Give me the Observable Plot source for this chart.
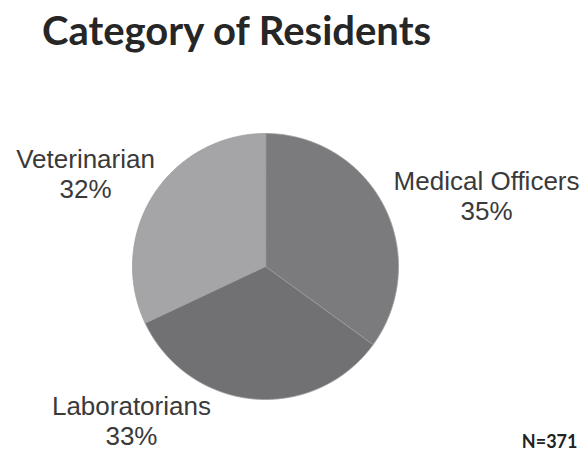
<!DOCTYPE html>
<html>
<head>
<meta charset="utf-8">
<script src="https://cdn.jsdelivr.net/npm/d3@7"></script>
<script src="https://cdn.jsdelivr.net/npm/@observablehq/plot@0.6"></script>
<style>
  html, body { margin: 0; padding: 0; background: #fff; }
  #wrap { width: 585px; height: 455px; position: relative; overflow: hidden; }
  #title { font-family: Lato, "Open Sans", sans-serif; font-weight: 700; font-size: 40px; line-height: 40px;
           color: #262626; position: absolute; left: 42px; top: 10px; white-space: nowrap; z-index: 2; }
  #chart { position: absolute; left: 0; top: 0; }
</style>
</head>
<body>
<div id="wrap">
  <div id="title">Category of Residents</div>
  <div id="chart"></div>
</div>
<script>
const categories = ["Medical Officers", "Laboratorians", "Veterinarian"];
const percents = [35, 33, 32];
const sliceColors = ["#7b7b7e", "#717174", "#a5a5a8"];
const sampleSize = "N=371";

// layout (not data): label centres in units of the pie radius, relative to the pie centre
const labelPos = {
  "Medical Officers": [1.662, 0.535],
  "Laboratorians": [-1.008, -1.158],
  "Veterinarian": [-1.353, 0.699]
};

const W = 585, H = 455, R = 133, CX = 265, CY = 266;

const data = categories.map((c, i) => ({category: c, value: percents[i]}));
const arcs = d3.pie().sort(null).value(d => d.value).startAngle(0).endAngle(2 * Math.PI)(data);

const polys = [];
arcs.forEach(a => {
  const n = Math.max(8, Math.ceil((a.endAngle - a.startAngle) / 0.01));
  polys.push({category: a.data.category, x: 0, y: 0});
  for (let k = 0; k <= n; k++) {
    const t = a.startAngle + (a.endAngle - a.startAngle) * k / n;
    polys.push({category: a.data.category, x: Math.sin(t), y: Math.cos(t)});
  }
});

const labels = data.map(d => ({
  text: `${d.category}\n${d.value}%`,
  x: labelPos[d.category][0],
  y: labelPos[d.category][1]
}));

const chart = Plot.plot({
  width: W,
  height: H,
  margin: 0,
  style: {background: "transparent", overflow: "visible"},
  x: {domain: [-CX / R, (W - CX) / R], axis: null},
  y: {domain: [-(H - CY) / R, CY / R], axis: null},
  color: {domain: categories, range: sliceColors},
  marks: [
    Plot.line(polys, {x: "x", y: "y", z: "category", fill: "category", stroke: "#9d9d9f",
                      strokeWidth: 0.8, curve: "linear-closed"}),
    Plot.text(labels, {x: "x", y: "y", text: "text", fontSize: 26, lineHeight: 1.16,
                       fill: "#3a3a3a", fontFamily: "'Liberation Sans', Arial, sans-serif", textAnchor: "middle"}),
    Plot.text([sampleSize], {frameAnchor: "bottom-right", dx: -8, dy: -8, fontSize: 18,
                       fontWeight: "bold", fill: "#222", fontFamily: "Lato, sans-serif"})
  ]
});
document.getElementById("chart").appendChild(chart);
</script>
</body>
</html>
